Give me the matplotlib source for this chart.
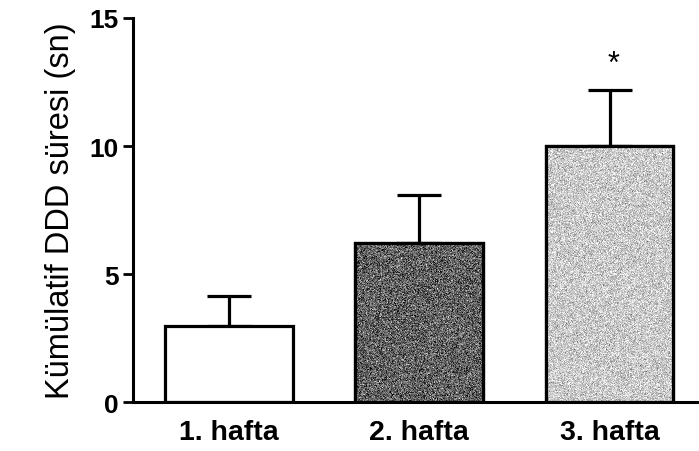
import matplotlib
matplotlib.use("Agg")
import matplotlib.pyplot as plt
import numpy as np

categories = ["1. hafta", "2. hafta", "3. hafta"]
means = [2.97, 6.2, 10.0]
errors = [1.17, 1.9, 2.2]
fill_gray = [1.0, 0.38, 0.79]      # mean gray level of each bar's fill
grain = [0.0, 0.16, 0.11]          # strength of the printed-screen grain
significance = ["", "", "*"]

plt.rcParams["font.family"] = ["Liberation Sans", "DejaVu Sans"]

fig = plt.figure(figsize=(6.99, 4.52), dpi=100)
ax = fig.add_axes([0.19, 0.108, 0.81, 0.85])

x = np.arange(len(categories))
width = 0.67
bars = ax.bar(x, means, width=width, color=[str(g) for g in fill_gray],
              edgecolor="black", linewidth=2.3, zorder=2)
ax.errorbar(x, means, yerr=[np.zeros(len(means)), errors], fmt="none",
            ecolor="black", elinewidth=2.3, capsize=16, capthick=2.3, zorder=1)

# grainy halftone-like fill texture inside the shaded bars
rng = np.random.default_rng(3)
for bar, g, s in zip(bars, fill_gray, grain):
    if s <= 0:
        continue
    bx, by = bar.get_x(), bar.get_y()
    bw, bh = bar.get_width(), bar.get_height()
    tex = np.clip(g + rng.normal(0, s, size=(int(bh * 26), 128)), 0, 1)
    im = ax.imshow(tex, cmap="gray", vmin=0, vmax=1, interpolation="nearest",
                   extent=[bx, bx + bw, by, by + bh], aspect="auto", zorder=2.1)
    im.set_clip_path(bar)
    edge = plt.Rectangle((bx, by), bw, bh, fill=False, edgecolor="black",
                         linewidth=2.3, zorder=2.2)
    ax.add_patch(edge)

for xi, m, e, s in zip(x, means, errors, significance):
    if s:
        ax.text(xi + 0.02, m + e + 1.0, s, ha="center", va="center", fontsize=22)

ax.set_xlim(-0.505, 2.47)
ax.set_ylim(0, 15)
ax.set_yticks([0, 5, 10, 15])
ax.set_xticks(x)
ax.set_xticklabels(categories, fontsize=20.5, fontweight="bold")
for lbl in ax.get_yticklabels():
    lbl.set_fontsize(19)
    lbl.set_fontweight("bold")
ax.tick_params(axis="y", direction="out", length=7, width=2, pad=3)
ax.tick_params(axis="x", length=0, pad=12)
ax.set_ylabel("Kümülatif DDD süresi (sn)", fontsize=23.5, labelpad=10)

for side in ["top", "right"]:
    ax.spines[side].set_visible(False)
for side in ["left", "bottom"]:
    ax.spines[side].set_linewidth(2.2)

fig.savefig("out.png", dpi=100)
